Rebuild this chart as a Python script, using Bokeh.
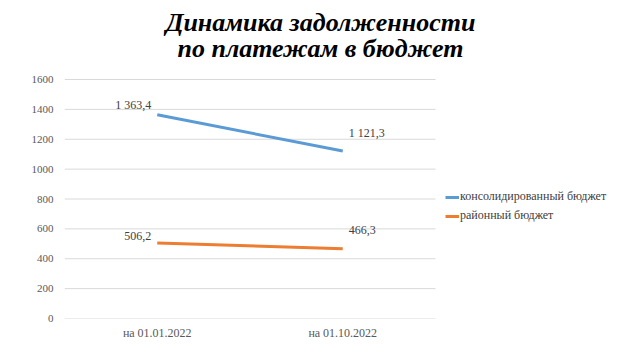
from bokeh.plotting import figure
from bokeh.models import ColumnDataSource, Legend, LegendItem, FixedTicker, Range1d
from bokeh.core.properties import value
from bokeh.embed import file_html
from bokeh.resources import INLINE

categories = ["на 01.01.2022", "на 01.10.2022"]
consolidated = [1363.4, 1121.3]
district = [506.2, 466.3]
series_names = ["консолидированный бюджет", "районный бюджет"]
y_ticks = [0, 200, 400, 600, 800, 1000, 1200, 1400, 1600]
title_lines = ["Динамика задолженности", "по платежам в бюджет"]

FONT = "'Liberation Serif', 'Times New Roman', serif"

def fmt(v):
    s = f"{v:,.1f}"
    return s.replace(",", " ").replace(".", ",")

xs = list(range(len(categories)))
n = len(categories)

# layout in pixels
W, H = 640, 360
left, right, bottom = 64, 10, 42
grid_top_px = 79            # pixel row of the top gridline
band = 185.5                # category band width in px
x_end = -0.5 + (W - left - right) / band
plot_h = H - bottom
y_max = y_ticks[-1]
y_end = y_max * plot_h / (plot_h - grid_top_px)

def px_to_x(px):
    return -0.5 + (px - left) / band

def py_to_y(py):
    return (plot_h - py) / plot_h * y_end

p = figure(width=W, height=H, output_backend="svg", toolbar_location=None,
           x_range=Range1d(-0.5, x_end), y_range=Range1d(0, y_end),
           min_border_left=left, min_border_right=right, min_border_top=0,
           min_border_bottom=bottom)
p.outline_line_color = None
p.background_fill_color = "white"
p.title = None

# title as two centred lines
tsrc = ColumnDataSource(dict(x=[px_to_x(W / 2)] * 2, y=[py_to_y(22), py_to_y(48)],
                             t=title_lines))
p.text(x="x", y="y", text="t", source=tsrc, text_align="center", text_baseline="alphabetic",
       text_font=value(FONT), text_font_size="26px", text_font_style="bold italic",
       text_color="black")

# axes
p.yaxis.ticker = FixedTicker(ticks=y_ticks)
p.xaxis.ticker = FixedTicker(ticks=xs)
p.xaxis.major_label_overrides = {i: c for i, c in enumerate(categories)}
for ax in (p.xaxis[0], p.yaxis[0]):
    ax.axis_line_color = None
    ax.major_tick_line_color = None
    ax.minor_tick_line_color = None
    ax.major_tick_out = 0
    ax.major_tick_in = 0
    ax.minor_tick_out = 0
    ax.major_label_text_font = FONT
    ax.major_label_text_color = "#595959"
p.yaxis.major_label_text_font_size = "11px"
p.xaxis.major_label_text_font_size = "12px"
p.yaxis.major_label_standoff = 11
p.xaxis.major_label_standoff = 7
p.xgrid.grid_line_color = None
p.ygrid.grid_line_color = None

# horizontal gridlines limited to the category area
p.segment(x0=[-0.5] * len(y_ticks), x1=[n - 0.5] * len(y_ticks), y0=y_ticks, y1=y_ticks,
          line_color="#d9d9d9", line_width=1)

colors = ["#5B9BD5", "#ED7D31"]
r1 = p.line(xs, consolidated, line_color=colors[0], line_width=3)
r2 = p.line(xs, district, line_color=colors[1], line_width=3)

# data labels
lab_x_off = [-6, 6]
lab_align = ["right", "left"]
c_y_off = [-10, -18]
d_y_off = [-7, -19]
for vals, yoffs in ((consolidated, c_y_off), (district, d_y_off)):
    src = ColumnDataSource(dict(x=xs, y=vals, t=[fmt(v) for v in vals],
                                xo=lab_x_off, yo=yoffs, al=lab_align))
    p.text(x="x", y="y", text="t", x_offset="xo", y_offset="yo", text_align="al",
           text_baseline="middle", text_font=value(FONT), text_font_size="12px",
           text_color="#404040", source=src)

legend = Legend(items=[LegendItem(label=series_names[0], renderers=[r1]),
                       LegendItem(label=series_names[1], renderers=[r2])],
                location=(381, 95), orientation="vertical")
legend.border_line_color = None
legend.background_fill_alpha = 0
legend.padding = 0
legend.margin = 0
legend.spacing = 4
legend.glyph_width = 14
legend.glyph_height = 14
legend.label_standoff = 1
legend.label_text_font = FONT
legend.label_text_font_size = "12px"
legend.label_text_color = "#404040"
legend.label_height = 14
p.add_layout(legend, "center")

open("out.html", "w").write(file_html(p, INLINE))
